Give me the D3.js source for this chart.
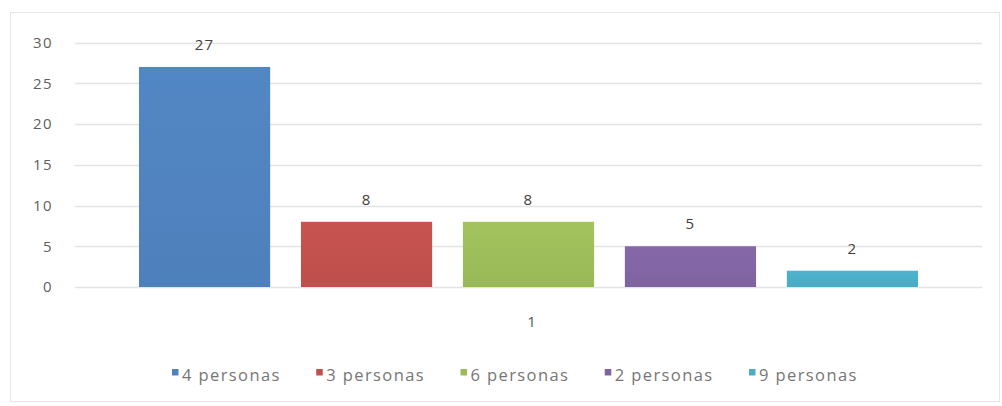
<!DOCTYPE html>
<html>
<head>
<meta charset="utf-8">
<script src="https://cdnjs.cloudflare.com/ajax/libs/d3/7.8.5/d3.min.js"></script>
<style>
  html, body { margin: 0; padding: 0; background: #fff; }
  svg { display: block; }
  text { font-family: "Open Sans", "Noto Sans", sans-serif; }
</style>
</head>
<body>
<svg id="chart" width="1002" height="406"></svg>
<script>
const categories = ["1"];
const seriesNames = ["4 personas", "3 personas", "6 personas", "2 personas", "9 personas"];
const seriesValues = [27, 8, 8, 5, 2];
const seriesColors = ["#4f81bd", "#c0504d", "#9bbb59", "#8064a2", "#4bacc6"];
const yTicks = [0, 5, 10, 15, 20, 25, 30];

const svg = d3.select("#chart");
const plot = { left: 75, right: 982, top: 42.5, bottom: 287 };

// gradients
const defs = svg.append("defs");
seriesColors.forEach((c, i) => {
  const g = defs.append("linearGradient").attr("id", "grad" + i)
    .attr("x1", 0).attr("y1", 0).attr("x2", 0).attr("y2", 1);
  g.append("stop").attr("offset", "0%").attr("stop-color", d3.color(c).brighter(0.12));
  g.append("stop").attr("offset", "100%").attr("stop-color", d3.color(c).darker(0.03));
});

// chart border
svg.append("rect").attr("x", 10.5).attr("y", 12.5).attr("width", 989).attr("height", 389)
  .attr("fill", "#fff").attr("stroke", "#e6e6e6").attr("stroke-width", 1);

const y = d3.scaleLinear().domain([0, 30]).range([plot.bottom, plot.top]);
const x0 = d3.scaleBand().domain(categories).range([plot.left, plot.right]).padding(0);
const x1 = d3.scaleBand().domain(seriesNames).range([0, x0.bandwidth()])
  .paddingInner(0.19).paddingOuter(0.395);

// gridlines
svg.append("g").selectAll("line").data(yTicks).join("line")
  .attr("x1", plot.left).attr("x2", plot.right)
  .attr("y1", d => Math.round(y(d)) + 0.5).attr("y2", d => Math.round(y(d)) + 0.5)
  .attr("stroke", "#e4e4e4").attr("stroke-width", 1.5);

// y axis labels
const yAxis = d3.axisLeft(y).tickValues(yTicks).tickSize(0).tickPadding(0);
const ya = svg.append("g").attr("transform", `translate(53,0)`).call(yAxis);
ya.select(".domain").remove();
ya.selectAll("text").attr("fill", "#5f5f5f").style("font-size", "15px")
  .style("letter-spacing", "1.4px").attr("font-family", "'Open Sans', sans-serif");

// bars
const g = svg.append("g").selectAll("g").data(categories).join("g")
  .attr("transform", d => `translate(${x0(d)},0)`);

g.selectAll("rect").data(seriesNames.map((n, i) => ({ n, v: seriesValues[i], i })))
  .join("rect")
  .attr("x", d => x1(d.n))
  .attr("width", x1.bandwidth())
  .attr("y", d => y(d.v))
  .attr("height", d => y(0) - y(d.v))
  .attr("fill", d => `url(#grad${d.i})`);

// data labels
g.selectAll("text.lbl").data(seriesNames.map((n, i) => ({ n, v: seriesValues[i] })))
  .join("text").attr("class", "lbl")
  .attr("x", d => x1(d.n) + x1.bandwidth() / 2)
  .attr("y", d => y(d.v) - 17)
  .attr("text-anchor", "middle")
  .attr("fill", "#404040")
  .style("font-size", "15px")
  .style("letter-spacing", "1.2px")
  .text(d => d.v);

// category axis label
const xAxis = d3.axisBottom(x0).tickSize(0).tickPadding(0);
const xa = svg.append("g").attr("transform", `translate(3,${plot.bottom + 40})`).call(xAxis);
xa.select(".domain").remove();
xa.selectAll("text").attr("fill", "#595959").style("font-size", "15px")
  .attr("dy", 0).attr("font-family", "'Open Sans', sans-serif");

// legend
const lx = d3.scalePoint().domain(seriesNames).range([172, 749]);
const leg = svg.append("g").selectAll("g").data(seriesNames).join("g")
  .attr("transform", d => `translate(${lx(d)},369)`);
leg.append("rect").attr("width", 6.5).attr("height", 6.5)
  .attr("fill", (d, i) => seriesColors[i]);
leg.append("text").attr("x", 10).attr("y", 12)
  .attr("fill", "#767676")
  .style("font-size", "16.5px")
  .style("letter-spacing", "1.4px")
  .text(d => d);
</script>
</body>
</html>
